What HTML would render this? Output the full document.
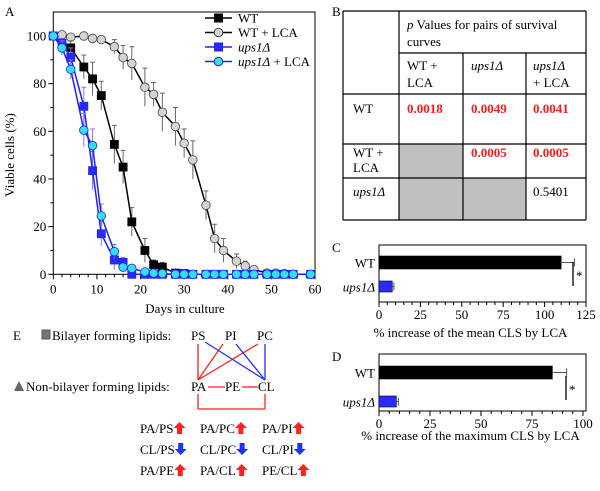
<!DOCTYPE html>
<html><head><meta charset="utf-8"><style>
html,body{margin:0;padding:0;background:#fff;font-family:"Liberation Serif",serif}
svg{display:block;font-family:"Liberation Serif",serif}
text{font-family:"Liberation Serif",serif}
</style></head><body>
<svg id="fig" width="600" height="491" viewBox="0 0 600 491" font-family="Liberation Serif, serif">
<g id="panelA"></g>
<g id="panelB"></g>
<g id="panelC"></g>
<g id="panelD"></g>
<g id="panelE"></g>
</svg>
<script>
const days = [0,2,4,7,9,11,14,16,18,21,23,25,28,30,32,35,37,39,42,44,46,49,51,53,55,59];
const wtVals = [100,null,95,87,82,75,54.5,45,22,10,4,3,0.5,0.3,null,null,null,null,null,null,null,null,null,null,null,null];
const wtErr = [0,0,3,5,7,6,8,7,6,5,2,2,1,1,0,0,0,0,0,0,0,0,0,0,0,0];
const lcaVals = [100,100.5,99.5,100,99,98.5,95.5,91,88.5,78.5,75.5,68,62,55,48,29,15,10,5.5,3.5,2,0.5,0.5,0.3,0,0];
const lcaErr = [0,0,0,0,0,0,3,5,7,8,5,8,8,6,8,6,6,5,3,2,1,0.5,0,0,0,0];
const upsVals = [100,97,91,70.5,43.5,17,6,5,0,0,0,0,0,0,0,0,0,0,0,0,0,0,0,0,0,0];
const upsErr = [0,2,4,8,8,5,4,2,0,0,0,0,0,0,0,0,0,0,0,0,0,0,0,0,0,0];
const upsLcaVals = [100,95,86,60.5,54,24.5,9.5,3,2.5,1,0.5,0.3,0,0,0,0,0,0,0,0,0,0,0,0,0,0];
const upsLcaErr = [0,3,4,7,7,5,3,1,1,0,0,0,0,0,0,0,0,0,0,0,0,0,0,0,0,0];
const xTicks = [0,10,20,30,40,50,60];
const yTicks = [0,20,40,60,80,100];
const meanCats = ["WT","ups1Δ"];
const meanVals = [110,8];
const meanErrs = [8,1];
const meanTicks = [0,25,50,75,100,125];
const maxCats = ["WT","ups1Δ"];
const maxVals = [85,8.5];
const maxErrs = [7,1];
const maxTicks = [0,25,50,75,100];

const NS="http://www.w3.org/2000/svg";
function mk(parent,tag,attrs,text){const e=document.createElementNS(NS,tag);for(const k in attrs)e.setAttribute(k,attrs[k]);if(tag==='text')e.setAttribute('font-family','Liberation Serif, serif');if(text!==undefined)e.textContent=text;parent.appendChild(e);return e;}

// ---------- Panel A ----------
const A=document.getElementById('panelA');
const ax={l:53.3,r:315,t:12,b:274.3};
const xA=d=>ax.l+(d/60)*(ax.r-ax.l);
const yA=v=>ax.b-(v/100)*(ax.b-36);
let t=mk(A,'text',{x:5,y:16,'font-size':13},'A');


let fr=mk(A,'rect',{x:ax.l,y:ax.t,width:ax.r-ax.l,height:ax.b-ax.t,fill:'none',stroke:'#000','stroke-width':1});


for(let d=0;d<=60;d+=2){mk(A,'line',{x1:xA(d),x2:xA(d),y1:ax.b,y2:ax.b+(d%10===0?5:3),stroke:'#000'});}
xTicks.forEach(v=>{const e=mk(A,'text',{x:xA(v),y:ax.b+19,'font-size':13,'text-anchor':'middle'},v);

});
for(let v=0;v<=100;v+=10){mk(A,'line',{x1:ax.l-(v%20===0?5:3),x2:ax.l,y1:yA(v),y2:yA(v),stroke:'#000'});}
yTicks.forEach(v=>{const e=mk(A,'text',{x:ax.l-7,y:yA(v)+4.5,'font-size':13,'text-anchor':'end'},v);

});
t=mk(A,'text',{x:14,y:155,'font-size':13,'text-anchor':'middle',transform:'rotate(-90 14 155)'},'Viable cells (%)');


t=mk(A,'text',{x:185,y:313,'font-size':13,'text-anchor':'middle'},'Days in culture');



function series(vals,errs,color,stroke,fill,shape,name){
  const g=mk(A,'g',{});
  
  
  const pts=[];days.forEach((d,i)=>{if(vals[i]!==null)pts.push([xA(d),yA(vals[i]),errs[i]]);});
  pts.forEach(p=>{if(p[2]>0){mk(g,'line',{x1:p[0],x2:p[0],y1:p[1]-p[2]*2.383,y2:p[1]+p[2]*2.383,stroke:color==='#000'?'#666':'#7a7aff','stroke-width':1});
    mk(g,'line',{x1:p[0]-2.5,x2:p[0]+2.5,y1:p[1]-p[2]*2.383,y2:p[1]-p[2]*2.383,stroke:color==='#000'?'#666':'#7a7aff'});}});
  mk(g,'polyline',{points:pts.map(p=>p[0]+','+p[1]).join(' '),fill:'none',stroke:color,'stroke-width':1.5});
  pts.forEach(p=>{let m;if(shape==='sq')m=mk(g,'rect',{x:p[0]-4,y:p[1]-4,width:8,height:8,fill:fill,stroke:stroke,'stroke-width':0.8});
    else m=mk(g,'circle',{cx:p[0],cy:p[1],r:4.3,fill:fill,stroke:stroke,'stroke-width':0.8});
    
    });
}
series(lcaVals,lcaErr,'#000','#444','#d4d4d4','ci','series-wt-lca');
series(wtVals,wtErr,'#000','#000','#000','sq','series-wt');
series(upsVals,upsErr,'#2020ff','#2020ff','#2a2aff','sq','series-ups1');
series(upsLcaVals,upsLcaErr,'#2020ff','#2020ff','#33e0f0','ci','series-ups1-lca');
// legend
const leg=[['WT','#000','#000','#000','sq',false],['WT + LCA','#000','#444','#d4d4d4','ci',false],['ups1Δ','#2020ff','#2020ff','#2a2aff','sq',true],['ups1Δ + LCA','#2020ff','#2020ff','#33e0f0','ci',true]];
leg.forEach((L,i)=>{const y=18+i*14.5;const g=mk(A,'g',{});


mk(g,'line',{x1:205,x2:232,y1:y,y2:y,stroke:L[1],'stroke-width':1.5});
if(L[4]==='sq')mk(g,'rect',{x:214.5,y:y-4,width:8,height:8,fill:L[3],stroke:L[2]});else mk(g,'circle',{cx:218.5,cy:y,r:4.3,fill:L[3],stroke:L[2]});
const tx=mk(g,'text',{x:238,y:y+4.5,'font-size':13});
if(L[5]){mk(tx,'tspan',{'font-style':'italic'},'ups1Δ');if(L[0].length>6)mk(tx,'tspan',{},' + LCA');}else tx.textContent=L[0];});

// ---------- Panel B ----------
const B=document.getElementById('panelB');
t=mk(B,'text',{x:332,y:16,'font-size':13},'B');


mk(B,'rect',{x:399,y:144,width:64,height:76,fill:'#c0c0c0'});
mk(B,'rect',{x:399,y:178,width:127,height:42,fill:'#c0c0c0'});
const hl=[[343,586,11],[399,586,53],[343,586,94],[343,586,144],[343,586,178],[343,586,220]];
hl.forEach(h=>mk(B,'line',{x1:h[0],x2:h[1],y1:h[2],y2:h[2],stroke:'#000','stroke-width':1.2}));
const vl=[[343,11,220],[399,11,220],[463,53,220],[526,53,220],[586,11,220]];
vl.forEach(v=>mk(B,'line',{x1:v[0],x2:v[0],y1:v[1],y2:v[2],stroke:'#000','stroke-width':1.2}));
function tb(x,y,parts,opt){const e=mk(B,'text',Object.assign({x:x,y:y,'font-size':13},opt||{}));parts.forEach(p=>mk(e,'tspan',p[1]||{},p[0]));

return e;}
tb(407,29,[['p',{'font-style':'italic'}],[' Values for pairs of survival']]);
tb(407,46,[['curves']]);
tb(407,70,[['WT +']]);tb(407,87,[['LCA']]);
tb(471,70,[['ups1Δ',{'font-style':'italic'}]]);
tb(533,70,[['ups1Δ',{'font-style':'italic'}]]);tb(533,87,[['+ LCA']]);
tb(353,113,[['WT']]);
tb(353,157,[['WT +']]);tb(353,172,[['LCA']]);
tb(353,196,[['ups1Δ',{'font-style':'italic'}]]);
const red={fill:'#ff1a1a','font-weight':'bold'};
tb(407,113,[['0.0018']],red);tb(471,113,[['0.0049']],red);tb(533,113,[['0.0041']],red);
tb(471,157,[['0.0005']],red);tb(533,157,[['0.0005']],red);
tb(533,196,[['0.5401']]);

// ---------- Panels C & D ----------
function barPanel(G,label,ly,box,cats,vals,errs,ticks,max,title,barY,sig,titleY){
  const xS=v=>box.l+(v/max)*(box.r-box.l);
  let e=mk(G,'text',{x:332,y:ly,'font-size':13},label);
  
  
  mk(G,'rect',{x:box.l,y:box.t,width:box.r-box.l,height:box.b-box.t,fill:'none',stroke:'#000'});
  for(let v=0;v<=ticks[ticks.length-1];v+=5)mk(G,'line',{x1:xS(v),x2:xS(v),y1:box.b,y2:box.b+(v%25===0?5:3),stroke:'#000'});
  ticks.forEach(v=>{const e=mk(G,'text',{x:xS(v),y:box.b+17,'font-size':13,'text-anchor':'middle'},v);
  
  });
  e=mk(G,'text',{x:(box.l+box.r)/2-12,y:titleY,'font-size':13,'text-anchor':'middle'},title);
  
  
  cats.forEach((c,i)=>{const y=barY[i];const h=i===0?13:11;
    const r=mk(G,'rect',{x:box.l,y:y,width:xS(vals[i])-box.l,height:h,fill:i===0?'#000':'#2a2aff',stroke:'#000','stroke-width':0.6});
    
    
    mk(G,'line',{x1:xS(vals[i]),x2:xS(vals[i]+errs[i]),y1:y+h/2,y2:y+h/2,stroke:'#555'});
    mk(G,'line',{x1:xS(vals[i]+errs[i]),x2:xS(vals[i]+errs[i]),y1:y+h/2-4,y2:y+h/2+4,stroke:'#555'});
    const tx=mk(G,'text',{x:box.l-4,y:y+h/2+5,'font-size':13,'text-anchor':'end','font-style':i===0?'normal':'italic'},c);
    
    });
  mk(G,'line',{x1:sig[0],x2:sig[0],y1:sig[1],y2:sig[2],stroke:'#000','stroke-width':1.3});
  e=mk(G,'text',{x:sig[0]+3,y:(sig[1]+sig[2])/2+6,'font-size':13},'*');
  
  
}
barPanel(document.getElementById('panelC'),'C',252,{l:379,r:586,t:245,b:302},meanCats,meanVals,meanErrs,meanTicks,125,'% increase of the mean CLS by LCA',[256,281],[573,262,286],337);
barPanel(document.getElementById('panelD'),'D',361,{l:379,r:586,t:354,b:411},maxCats,maxVals,maxErrs,maxTicks,101.5,'% increase of the maximum CLS by LCA',[366,396],[566,376,400],440);

// ---------- Panel E ----------
const E=document.getElementById('panelE');
function te(x,y,s,nm){const e=mk(E,'text',{x:x,y:y,'font-size':13},s);

return e;}
te(13,340,'E','panel-e-label');
mk(E,'rect',{x:42,y:330,width:8,height:9,fill:'#777',stroke:'#555'});
te(52,340,'Bilayer forming lipids:','bilayer-label');
mk(E,'polygon',{points:'14,391 19,381 24,391',fill:'#666'});
te(26,391,'Non-bilayer forming lipids:','non-bilayer-label');
te(191,340,'PS','lipid-ps');te(225,340,'PI','lipid-pi');te(257,340,'PC','lipid-pc');
te(191,391,'PA','lipid-pa');te(225,391,'PE','lipid-pe');te(258,391,'CL','lipid-cl');
const R='#ff2020',Bl='#2030ff';
[[198,344,198,380,R],[223,344,198,380,R],[258,344,198,380,R],[205,342,265,380,Bl],[236,344,265,380,Bl],[265,344,265,380,Bl],
 [208,387,225,387,R],[242,387,258,387,R],[198,394,198,409,R],[198,409,265,409,R],[265,409,265,394,R]].forEach(l=>mk(E,'line',{x1:l[0],y1:l[1],x2:l[2],y2:l[3],stroke:l[4],'stroke-width':1.3}));
const ratios=[['PA/PS','PA/PC','PA/PI'],['CL/PS','CL/PC','CL/PI'],['PA/PE','PA/CL','PE/CL']];
const xs=[140,200,262],ys=[433,454,475];
ratios.forEach((row,ri)=>row.forEach((s,ci)=>{const tt=te(xs[ci],ys[ri],s,'ratio-label');
 let w=36;try{w=tt.getComputedTextLength();}catch(e){}
 const ax0=xs[ci]+w+6,ay=ys[ri]-5;
 let p;if(ri===1)p=mk(E,'polygon',{points:`${ax0-2.5},${ay-6} ${ax0+2.5},${ay-6} ${ax0+2.5},${ay} ${ax0+6},${ay} ${ax0},${ay+6} ${ax0-6},${ay} ${ax0-2.5},${ay}`,fill:Bl});
 else p=mk(E,'polygon',{points:`${ax0-2.5},${ay+6} ${ax0+2.5},${ay+6} ${ax0+2.5},${ay} ${ax0+6},${ay} ${ax0},${ay-6} ${ax0-6},${ay} ${ax0-2.5},${ay}`,fill:R});
 
 }));
</script>
</body></html>
